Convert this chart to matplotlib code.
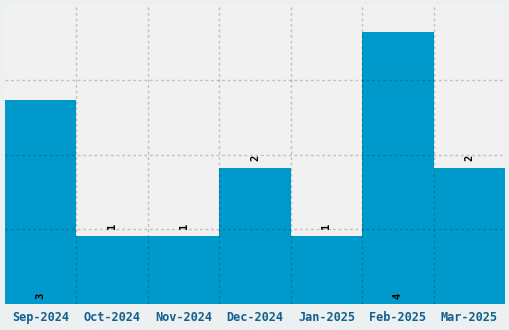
import matplotlib
matplotlib.use("Agg")
import matplotlib.pyplot as plt
import numpy as np

months = ["Sep-2024", "Oct-2024", "Nov-2024", "Dec-2024", "Jan-2025", "Feb-2025", "Mar-2025"]
counts = [3, 1, 1, 2, 1, 4, 2]

fig = plt.figure(figsize=(5.1, 3.3), dpi=100, facecolor="#ecf0f1")
ax = fig.add_axes([5 / 510, 26 / 330, 500 / 510, 299 / 330])
ax.set_facecolor("#f1f1f1")

x = np.arange(len(months))
ax.bar(x, counts, width=1.0, color="#0099cc", zorder=1)

ymax = 299 / 68
ax.set_xlim(-0.5, len(months) - 0.5)
ax.set_ylim(0, ymax)

# grid sits above the bars
ax.set_xticks(x[:-1] + 0.5, minor=True)
ax.set_yticks(np.linspace(0, ymax, 5)[1:-1])
ax.set_yticklabels([])
ax.grid(True, which="minor", axis="x", color="black", alpha=0.2,
        linestyle=(0, (2, 2)), linewidth=1, zorder=3)
ax.grid(True, which="major", axis="y", color="black", alpha=0.2,
        linestyle=(0, (2, 2)), linewidth=1, zorder=3)
ax.set_axisbelow(False)

ax.set_xticks(x)
ax.set_xticklabels(months, family="DejaVu Sans Mono", fontweight="bold",
                   fontsize=8.6, color="#11608f")
ax.tick_params(axis="both", which="both", length=0, pad=5)
for s in ax.spines.values():
    s.set_visible(False)

for xi, c in zip(x, counts):
    if c >= 3:
        ax.text(xi, 0.07, str(c), rotation=90, ha="center", va="bottom",
                family="DejaVu Sans Mono", fontweight="bold", fontsize=7.5, color="black", zorder=4)
    else:
        ax.text(xi, c + 0.11, str(c), rotation=90, ha="center", va="bottom",
                family="DejaVu Sans Mono", fontweight="bold", fontsize=7.5, color="black", zorder=4)

fig.savefig("out.png", dpi=100, facecolor=fig.get_facecolor())
